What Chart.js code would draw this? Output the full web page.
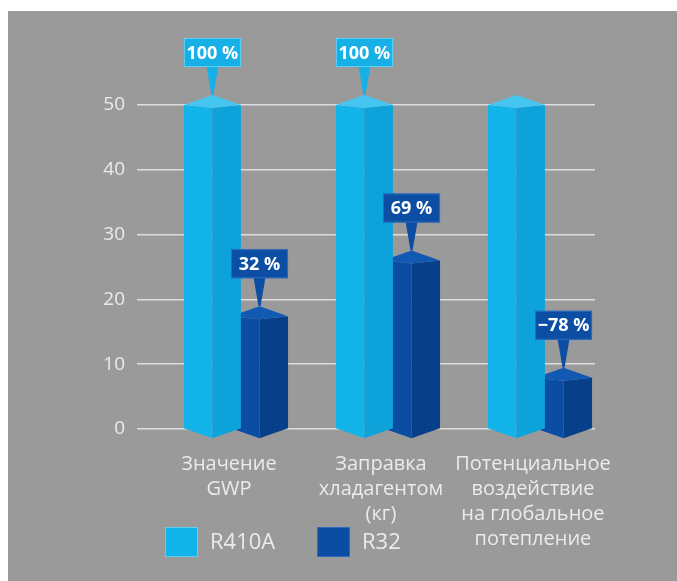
<!DOCTYPE html>
<html>
<head>
<meta charset="utf-8">
<script src="https://cdn.jsdelivr.net/npm/chart.js@4/dist/chart.umd.min.js"></script>
<style>
  html, body { margin: 0; padding: 0; background: #ffffff; overflow: hidden; }
  #panel { position: absolute; left: 8px; top: 11px; width: 669px; height: 570px; background: #9a9a9a; }
  canvas { display: block; }
</style>
</head>
<body>
<div id="panel"><canvas id="chart" width="669" height="570"></canvas></div>
<script>
// Categories (multi-line axis labels)
const categories = [
  ["Значение", "GWP"],
  ["Заправка", "хладагентом", "(кг)"],
  ["Потенциальное", "воздействие", "на глобальное", "потепление"]
];
const seriesNames = ["R410A", "R32"];
const r410aValues = [50, 50, 50];
const r32Values = [17.4, 26, 7.9];
const r410aCallouts = ["100 %", "100 %", null];
const r32Callouts = ["32 %", "69 %", "−78 %"];
const yTicks = [0, 10, 20, 30, 40, 50];

// Face colours for the prism bars
const palettes = [
  { left: "#13b4ea", right: "#0ea2db", top: "#45c6f1", box: "#16b0e6", edge: "#5fd0f5" },
  { left: "#0b4da3", right: "#083f89", top: "#1259b3", box: "#0c4ea3", edge: "#2c6cbf" }
];
const calloutTexts = [r410aCallouts, r32Callouts];

const PEAK = 10;   // depth of roof / bottom point
const FRONT = 3;   // front corner drop of the roof
const TEXT = "#ebebeb";
const FONT = "'Open Sans', 'DejaVu Sans', sans-serif";

function fillPoly(ctx, pts) {
  ctx.beginPath();
  ctx.moveTo(pts[0][0], pts[0][1]);
  for (let i = 1; i < pts.length; i++) ctx.lineTo(pts[i][0], pts[i][1]);
  ctx.closePath();
  ctx.fill();
}

const prismBars = {
  id: "prismBars",
  beforeDatasetDraw(chart, args) {
    const ctx = chart.ctx;
    const pal = palettes[args.index];
    ctx.save();
    args.meta.data.forEach(el => {
      const { x, y, base, width } = el.getProps(["x", "y", "base", "width"], true);
      const h = width / 2;
      ctx.fillStyle = pal.left;
      fillPoly(ctx, [[x - h, y], [x, y + FRONT], [x, base + PEAK], [x - h, base]]);
      ctx.fillStyle = pal.right;
      fillPoly(ctx, [[x + h, y], [x, y + FRONT], [x, base + PEAK], [x + h, base]]);
      ctx.fillStyle = pal.top;
      fillPoly(ctx, [[x - h, y], [x, y - PEAK], [x + h, y], [x, y + FRONT]]);
    });
    ctx.restore();
    return false;
  },
  afterDatasetsDraw(chart) {
    const ctx = chart.ctx;
    ctx.save();
    chart.data.datasets.forEach((ds, di) => {
      const pal = palettes[di];
      chart.getDatasetMeta(di).data.forEach((el, i) => {
        const text = calloutTexts[di][i];
        if (!text) return;
        const { x, y, width } = el.getProps(["x", "y", "width"], true);
        const tip = y - PEAK;
        const boxBottom = tip - 28;
        const boxH = 29;
        const left = x - width / 2;
        ctx.fillStyle = pal.box;
        fillPoly(ctx, [[x - 6, boxBottom - 1], [x + 6, boxBottom - 1], [x + 1, tip], [x - 1, tip]]);
        ctx.fillRect(left, boxBottom - boxH, width, boxH);
        ctx.strokeStyle = pal.edge;
        ctx.lineWidth = 1;
        ctx.strokeRect(left + 0.5, boxBottom - boxH + 0.5, width - 1, boxH - 1);
        ctx.fillStyle = "#ffffff";
        ctx.font = "bold 18px " + FONT;
        ctx.textAlign = "center";
        ctx.textBaseline = "middle";
        ctx.fillText(text, x, boxBottom - boxH / 2 + 1);
      });
    });
    ctx.restore();
  },
  // series key under the first category
  afterDraw(chart) {
    const ctx = chart.ctx;
    const area = chart.chartArea;
    let x = area.left + 28;
    const top = area.bottom + 98;
    ctx.save();
    ctx.font = "22px " + FONT;
    ctx.textBaseline = "middle";
    ctx.textAlign = "left";
    chart.data.datasets.forEach((ds, i) => {
      ctx.fillStyle = ds.backgroundColor;
      ctx.fillRect(x, top, 33, 30);
      ctx.strokeStyle = palettes[i].edge;
      ctx.lineWidth = 1;
      ctx.strokeRect(x + 0.5, top + 0.5, 32, 29);
      ctx.fillStyle = TEXT;
      ctx.fillText(ds.label, x + 45, top + 16);
      x += 152;
    });
    ctx.restore();
  }
};

const toPoints = vals => vals.map((v, i) => ({ x: i, y: v }));

new Chart(document.getElementById("chart"), {
  type: "bar",
  data: {
    datasets: [
      { label: seriesNames[0], data: toPoints(r410aValues), backgroundColor: palettes[0].left, borderWidth: 0, clip: false },
      { label: seriesNames[1], data: toPoints(r32Values), backgroundColor: palettes[1].left, borderWidth: 0, clip: false }
    ]
  },
  options: {
    responsive: false,
    animation: false,
    devicePixelRatio: 1,
    categoryPercentage: 0.62,
    barPercentage: 1.21,
    layout: { padding: { top: 94, right: 82, left: 0, bottom: 0 } },
    plugins: {
      tooltip: { enabled: false },
      legend: { display: false }
    },
    scales: {
      x: {
        type: "linear",
        offset: false,
        min: -0.651,
        max: 2.362,
        grid: { display: false },
        border: { display: false },
        afterBuildTicks: s => { s.ticks = categories.map((c, i) => ({ value: i })); },
        afterFit: s => { s.height = 152; },
        ticks: {
          autoSkip: false,
          maxRotation: 0,
          padding: 15,
          labelOffset: -7,
          color: TEXT,
          font: { family: FONT, size: 20, lineHeight: 1.25 },
          callback: v => categories[v]
        }
      },
      y: {
        min: 0,
        max: 50,
        afterBuildTicks: s => { s.ticks = yTicks.map(v => ({ value: v })); },
        afterFit: s => { s.width = 129; },
        grid: { color: "#dddddd", lineWidth: 1.5, drawTicks: false },
        border: { display: false },
        ticks: {
          padding: 12,
          color: TEXT,
          font: { family: FONT, size: 19 }
        }
      }
    }
  },
  plugins: [prismBars]
});
</script>
</body>
</html>
